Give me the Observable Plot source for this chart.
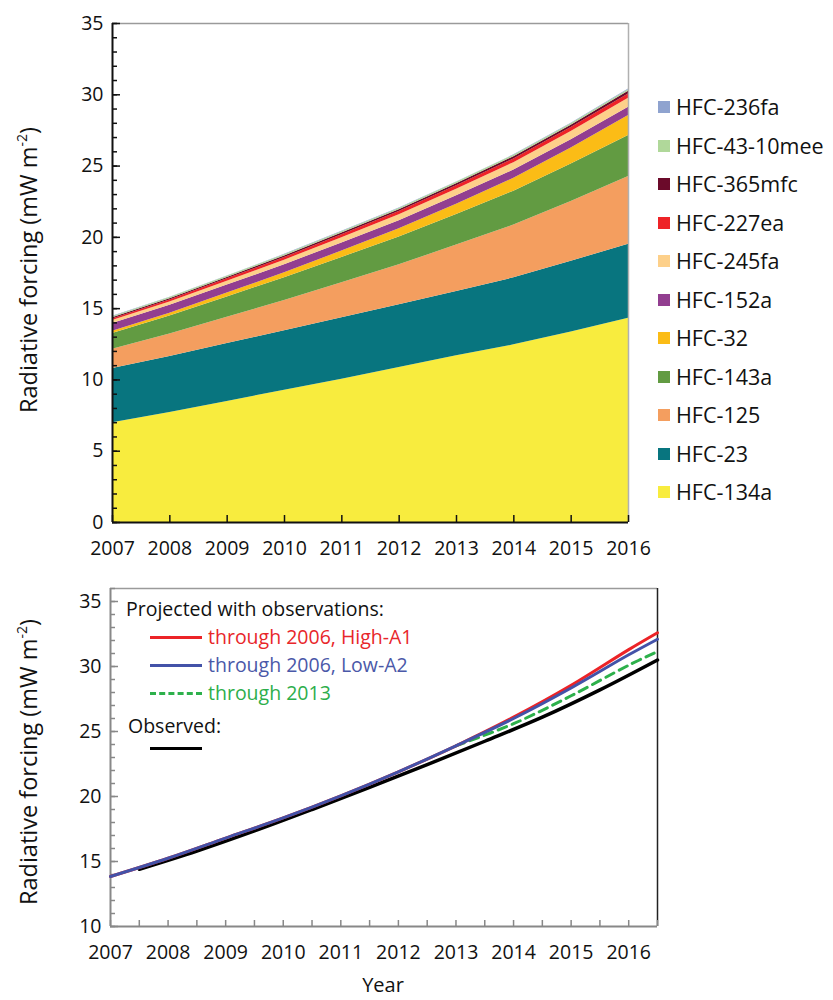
<!DOCTYPE html>
<html><head><meta charset="utf-8">
<script src="https://cdn.jsdelivr.net/npm/d3@7"></script>
<script src="https://cdn.jsdelivr.net/npm/@observablehq/plot@0.6"></script>
<style>
body{margin:0;background:#fff;font-family:"Open Sans",sans-serif;color:#111;}
#wrap{position:relative;width:833px;height:1000px;overflow:hidden;}
#wrap svg{display:block;}
.abs{position:absolute;white-space:nowrap;line-height:24px;height:24px;}
.ytitle{position:absolute;white-space:nowrap;font-size:23.5px;line-height:28px;transform:translate(-50%,-50%) rotate(-90deg);}
.ytitle sup{font-size:14px;vertical-align:10px;line-height:0;}
.sw{position:absolute;width:12px;height:12px;}
.lg{position:absolute;height:0;}
</style></head>
<body><div id="wrap"></div>
<script>
// ---------- Data: top panel (radiative forcing by species, mW m-2) ----------
const years = [2007, 2008, 2009, 2010, 2011, 2012, 2013, 2014, 2015, 2016];
const seriesNames = ["HFC-134a","HFC-23","HFC-125","HFC-143a","HFC-32","HFC-152a","HFC-245fa","HFC-227ea","HFC-365mfc","HFC-43-10mee","HFC-236fa"];
const seriesColors = ["#F8EC3E","#08757F","#F49E5F","#629B42","#FBBC16","#923E90","#FDD08A","#EE2327","#6B0A2A","#B0D89A","#8FA3CF"];
const hfc134a   = [7.00, 7.72, 8.49, 9.28, 10.05, 10.87, 11.69, 12.46, 13.37, 14.33];
const hfc23     = [3.80, 3.92, 4.06, 4.17, 4.31, 4.40, 4.52, 4.70, 4.95, 5.19];
const hfc125    = [1.36, 1.58, 1.84, 2.12, 2.45, 2.80, 3.25, 3.70, 4.20, 4.74];
const hfc143a   = [1.10, 1.26, 1.43, 1.60, 1.78, 1.96, 2.15, 2.38, 2.62, 2.88];
const hfc32     = [0.15, 0.20, 0.27, 0.35, 0.45, 0.57, 0.72, 0.90, 1.12, 1.40];
const hfc152a   = [0.55, 0.55, 0.56, 0.56, 0.57, 0.57, 0.58, 0.58, 0.59, 0.59];
const hfc245fa  = [0.20, 0.24, 0.28, 0.32, 0.37, 0.42, 0.47, 0.52, 0.57, 0.63];
const hfc227ea  = [0.12, 0.14, 0.16, 0.18, 0.20, 0.22, 0.24, 0.26, 0.28, 0.30];
const hfc365mfc = [0.08, 0.09, 0.10, 0.11, 0.12, 0.13, 0.14, 0.16, 0.17, 0.19];
const hfc4310   = [0.08, 0.08, 0.08, 0.09, 0.09, 0.09, 0.10, 0.10, 0.10, 0.11];
const hfc236fa  = [0.02, 0.02, 0.02, 0.03, 0.03, 0.03, 0.03, 0.03, 0.04, 0.04];
const legendOrder = ["HFC-236fa","HFC-43-10mee","HFC-365mfc","HFC-227ea","HFC-245fa","HFC-152a","HFC-32","HFC-143a","HFC-125","HFC-23","HFC-134a"];
const topYTicks = [0, 5, 10, 15, 20, 25, 30, 35];

// ---------- Data: bottom panel (total forcing, mW m-2) ----------
const projYears   = [2007, 2008, 2009, 2010, 2011, 2012, 2013, 2014, 2015, 2016, 2016.5];
const highA1      = [13.85, 15.25, 16.8, 18.35, 20.05, 21.9, 23.9, 26.1, 28.55, 31.3, 32.6];
const lowA2       = [13.85, 15.25, 16.8, 18.35, 20.05, 21.9, 23.9, 26.0, 28.35, 30.9, 32.1];
const thru2013Yrs = [2013, 2014, 2015, 2016, 2016.5];
const thru2013    = [23.9, 25.6, 27.75, 30.1, 31.15];
const obsYears    = [2007.5, 2008.5, 2009.5, 2010.5, 2011.5, 2012.5, 2013.5, 2014.5, 2015.5, 2016.5];
const observed    = [14.4, 15.8, 17.35, 19.0, 20.7, 22.45, 24.25, 26.1, 28.2, 30.5];
const botYTicks = [10, 15, 20, 25, 30, 35];
const botXLabels = [2007, 2008, 2009, 2010, 2011, 2012, 2013, 2014, 2015, 2016];

const seriesValues = [hfc134a, hfc23, hfc125, hfc143a, hfc32, hfc152a, hfc245fa, hfc227ea, hfc365mfc, hfc4310, hfc236fa];
const rows = [];
seriesNames.forEach((s, i) => years.forEach((y, j) => rows.push({series: s, year: y, value: seriesValues[i][j]})));

const font = '"Open Sans", sans-serif';
const wrap = document.getElementById("wrap");

// ---------- Top chart ----------
const TW = 833, TH = 570, TML = 112, TMR = 205, TMT = 23, TMB = 48;
const tFrameW = TW - TML - TMR, tFrameH = TH - TMT - TMB;
const topMinor = d3.range(0, 36, 1);
const topChart = Plot.plot({
  width: TW, height: TH, marginLeft: TML, marginRight: TMR, marginTop: TMT, marginBottom: TMB,
  style: {fontFamily: font, fontSize: "19.5px", color: "#111", background: "white", overflow: "visible"},
  x: {domain: [2007, 2016]},
  y: {domain: [0, 35]},
  color: {domain: seriesNames, range: seriesColors},
  marks: [
    Plot.areaY(rows, {x: "year", y: "value", fill: "series", order: seriesNames}),
    Plot.ruleY([35], {stroke: "#9a9a9a", strokeWidth: 1.5}),
    Plot.ruleX([2016], {stroke: "#b0b0b0", strokeWidth: 1.5}),
    Plot.tickY(topMinor, {y: d => d, stroke: "#111", strokeWidth: 1.5, insetRight: tFrameW - 5}),
    Plot.tickY(topYTicks, {y: d => d, stroke: "#111", strokeWidth: 1.5, insetRight: tFrameW - 8}),
    Plot.tickX(years, {x: d => d, stroke: "#111", strokeWidth: 1.5, insetTop: tFrameH - 7}),
    Plot.ruleX([2007], {stroke: "#111", strokeWidth: 2}),
    Plot.ruleY([0], {stroke: "#111", strokeWidth: 2}),
    Plot.axisY({ticks: topYTicks, tickSize: 0, tickPadding: 9, label: null}),
    Plot.axisX({ticks: years, tickSize: 0, tickPadding: 19, tickFormat: "d", label: null})
  ]
});
wrap.appendChild(topChart);

// ---------- Bottom chart ----------
const BW = 833, BH = 430, BML = 110, BMR = 176, BMT = 18, BMB = 74;
const bFrameW = BW - BML - BMR, bFrameH = BH - BMT - BMB;
const botMinorY = d3.range(10, 36.01, 1);
const botMinorX = d3.range(2007, 2016.51, 0.5);
const mk = (xs, ys) => xs.map((x, i) => ({x, y: ys[i]}));
const botChart = Plot.plot({
  width: BW, height: BH, marginLeft: BML, marginRight: BMR, marginTop: BMT, marginBottom: BMB,
  style: {fontFamily: font, fontSize: "19.5px", color: "#111", background: "white", overflow: "visible"},
  x: {domain: [2007, 2016.5]},
  y: {domain: [10, 36]},
  marks: [
    Plot.ruleY([36], {stroke: "#9a9a9a", strokeWidth: 1.5}),
    Plot.ruleX([2016.5], {stroke: "#222", strokeWidth: 1.5}),
    Plot.tickY(botMinorY, {y: d => d, stroke: "#888", strokeWidth: 1.5, insetRight: bFrameW - 5}),
    Plot.tickY(botYTicks, {y: d => d, stroke: "#888", strokeWidth: 1.5, insetRight: bFrameW - 8}),
    Plot.tickX(botMinorX, {x: d => d, stroke: "#888", strokeWidth: 1.5, insetTop: bFrameH - 6}),
    Plot.ruleX([2007], {stroke: "#888", strokeWidth: 2}),
    Plot.ruleY([10], {stroke: "#888", strokeWidth: 2}),
    Plot.line(mk(obsYears, observed), {x: "x", y: "y", stroke: "#000", strokeWidth: 3.5, curve: "catmull-rom"}),
    Plot.line(mk(thru2013Yrs, thru2013), {x: "x", y: "y", stroke: "#2DB04B", strokeWidth: 3, strokeDasharray: "9,6", curve: "catmull-rom"}),
    Plot.line(mk(projYears, highA1), {x: "x", y: "y", stroke: "#EC2327", strokeWidth: 3, curve: "catmull-rom"}),
    Plot.line(mk(projYears, lowA2), {x: "x", y: "y", stroke: "#4352A8", strokeWidth: 3, curve: "catmull-rom"}),
    Plot.axisY({ticks: botYTicks, tickSize: 0, tickPadding: 9, label: null}),
    Plot.axisX({ticks: botXLabels, tickSize: 0, tickPadding: 19, tickFormat: "d", label: null})
  ]
});
wrap.appendChild(botChart);

// ---------- HTML overlays: titles and legends ----------
function addText(html, left, cy, size, color, extra) {
  const d = document.createElement("div");
  d.className = "abs";
  d.innerHTML = html;
  d.style.left = left + "px";
  d.style.top = (cy - 12) + "px";
  d.style.fontSize = size + "px";
  if (color) d.style.color = color;
  if (extra) Object.assign(d.style, extra);
  wrap.appendChild(d);
  return d;
}
function addYTitle(cx, cy) {
  const d = document.createElement("div");
  d.className = "ytitle";
  d.innerHTML = 'Radiative forcing (mW m<sup>-2</sup>)';
  d.style.left = cx + "px";
  d.style.top = cy + "px";
  wrap.appendChild(d);
}
addYTitle(28, 270);
addYTitle(28, 762);

// right legend
const colorOf = Object.fromEntries(seriesNames.map((s, i) => [s, seriesColors[i]]));
legendOrder.forEach((s, i) => {
  const cy = 107 + i * 38.5;
  const sw = document.createElement("div");
  sw.className = "sw";
  sw.style.left = "658px";
  sw.style.top = (cy - 6) + "px";
  sw.style.background = colorOf[s];
  wrap.appendChild(sw);
  addText(s, 676, cy, 21.5, "#111");
});

// bottom legend
function addSwatch(left, cy, color, style) {
  const d = document.createElement("div");
  d.className = "lg";
  d.style.left = left + "px";
  d.style.top = (cy - 1.5) + "px";
  d.style.width = "52px";
  d.style.borderTop = "3px " + style + " " + color;
  wrap.appendChild(d);
}
addText("Projected with observations:", 126, 609, 19.5, "#111");
addSwatch(150, 637, "#EC2327", "solid");
addText("through 2006, High-A1", 208, 637, 19.5, "#E8262A");
addSwatch(150, 665, "#4352A8", "solid");
addText("through 2006, Low-A2", 208, 665, 19.5, "#4A58A8");
addSwatch(150, 693, "#2DB04B", "dashed");
addText("through 2013", 208, 693, 19.5, "#2DAE4B");
addText("Observed:", 128, 726, 19.5, "#111");
addSwatch(150, 748, "#000", "solid");
addText("Year", 383, 985, 20, "#111", {transform: "translateX(-50%)"});
</script>
</body></html>
